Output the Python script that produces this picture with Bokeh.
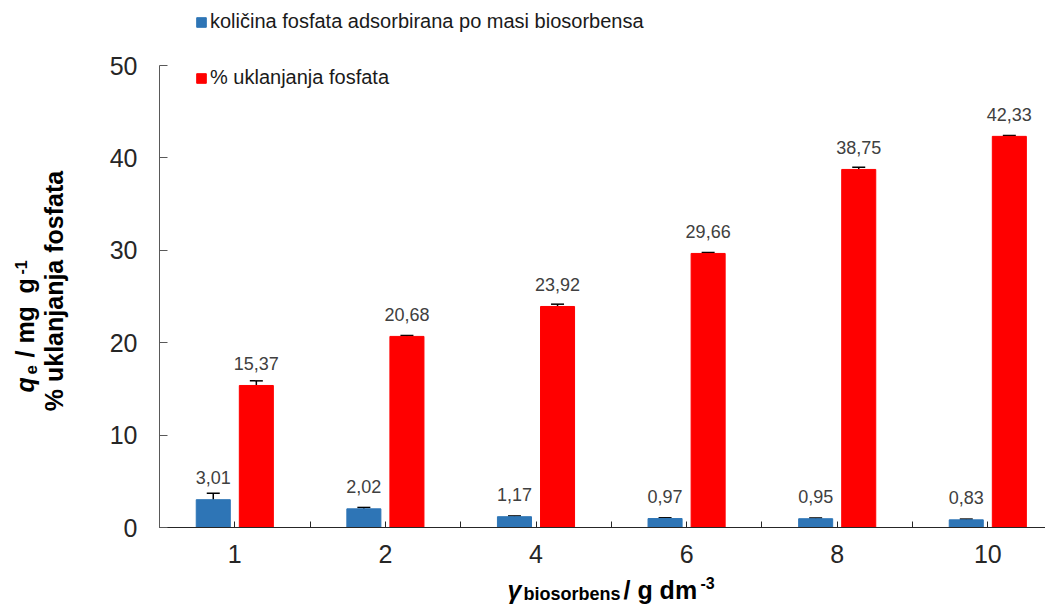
import math
from bokeh.plotting import figure
from bokeh.models import (Range1d, FixedTicker, Whisker, TeeHead, ColumnDataSource,
                          Label, Legend, LegendItem)
from bokeh.core.properties import value
from bokeh.embed import file_html
from bokeh.resources import INLINE

# ---------------- data ----------------
categories = ["1", "2", "4", "6", "8", "10"]
qe_values = [3.01, 2.02, 1.17, 0.97, 0.95, 0.83]
qe_errors = [0.70, 0.15, 0.08, 0.08, 0.08, 0.08]
removal_values = [15.37, 20.68, 23.92, 29.66, 38.75, 42.33]
removal_errors = [0.50, 0.10, 0.25, 0.10, 0.25, 0.10]
y_ticks = [0, 10, 20, 30, 40, 50]
legend_labels = ["količina fosfata adsorbirana po masi biosorbensa", "% uklanjanja fosfata"]

# ---------------- layout constants ----------------
FONT = "Liberation Sans"
W, H = 1045, 604
AX_L, AX_T, AX_B = 159, 65, 527    # axis origin / top of value axis (canvas px)
CAT_PX = 150.6                     # px per category
PXY = (AX_B - AX_T) / 50.0
X_END = (W - AX_L) / CAT_PX
OFF, BW = 0.143, 0.226
BLUE, RED = "#2E75B6", "#FF0000"

centers = [i + 0.5 for i in range(len(categories))]
boundaries = [float(i) for i in range(len(categories))]

def fmt(v):
    return f"{v:.2f}".replace(".", ",")

src_q = ColumnDataSource(dict(
    x=[c - OFF for c in centers], top=qe_values,
    upper=[v + e for v, e in zip(qe_values, qe_errors)],
    lower=[v - e for v, e in zip(qe_values, qe_errors)],
    label=[fmt(v) for v in qe_values]))
src_r = ColumnDataSource(dict(
    x=[c + OFF for c in centers], top=removal_values,
    upper=[v + e for v, e in zip(removal_values, removal_errors)],
    lower=[v - e for v, e in zip(removal_values, removal_errors)],
    label=[fmt(v) for v in removal_values]))

# frame covers the whole canvas; axes are pinned at the data origin
p = figure(width=W, height=H, output_backend="svg", toolbar_location=None,
           x_range=Range1d(-AX_L / CAT_PX, X_END),
           y_range=Range1d(-(H - AX_B) / PXY, AX_B / PXY),
           min_border_left=0, min_border_top=0, min_border_bottom=0,
           min_border_right=0)
p.outline_line_color = None
p.xgrid.visible = False
p.ygrid.visible = False
p.background_fill_color = "white"
p.border_fill_color = "white"

rq = p.vbar(x="x", top="top", width=BW, source=src_q, fill_color=BLUE, line_color=BLUE)
rr = p.vbar(x="x", top="top", width=BW, source=src_r, fill_color=RED, line_color=RED)

for s in (src_q, src_r):
    p.add_layout(Whisker(base="x", upper="upper", lower="lower", source=s,
                         line_color="black", line_width=1.5,
                         upper_head=TeeHead(size=13, line_color="black", line_width=1.5),
                         lower_head=TeeHead(size=13, line_color="black", line_width=1.5)))
    p.text(x="x", y="top", text="label", source=s, text_align="center",
           text_baseline="alphabetic", y_offset=-22, text_font=value(FONT),
           text_font_size="18px", text_color="#404040")

# axes
xa = p.xaxis[0]
xa.fixed_location = 0
xa.bounds = (0, X_END)
xa.ticker = FixedTicker(ticks=centers, minor_ticks=boundaries)
xa.major_label_overrides = {c: lab for c, lab in zip(centers, categories)}
xa.major_label_text_font = FONT
xa.major_label_text_font_size = "25px"
xa.major_label_text_color = "#262626"
xa.major_label_standoff = 17
xa.axis_line_color = "#262626"
xa.major_tick_line_color = "#262626"
xa.minor_tick_line_color = "#262626"
xa.major_tick_in = 6
xa.major_tick_out = 0
xa.minor_tick_in = 6
xa.minor_tick_out = 0

ya = p.yaxis[0]
ya.fixed_location = 0
ya.bounds = (0, 50)
ya.ticker = FixedTicker(ticks=y_ticks)
ya.major_label_text_font = FONT
ya.major_label_text_font_size = "25px"
ya.major_label_text_color = "#262626"
ya.major_label_standoff = 22
ya.axis_line_color = "#595959"
ya.major_tick_line_color = "#595959"
ya.major_tick_in = 8
ya.major_tick_out = 0
ya.minor_tick_line_color = None

# legend (location measured from the canvas bottom-left)
legend = Legend(items=[LegendItem(label=legend_labels[0], renderers=[rq]),
                       LegendItem(label=legend_labels[1], renderers=[rr])],
                location=(195, H - 89), padding=0, margin=0, border_line_color=None,
                background_fill_alpha=0, glyph_width=12, glyph_height=12,
                label_standoff=3, spacing=33, label_text_font=FONT,
                label_text_font_size="20px", label_text_color="#1a1a1a")
p.add_layout(legend)

# helper for titles placed in canvas pixels
def lab(text, cx, cy, size, style="bold", angle=0.0, align="left"):
    p.add_layout(Label(x=(cx - AX_L) / CAT_PX, y=(AX_B - cy) / PXY,
                       x_units="data", y_units="data", text=text,
                       text_font=FONT, text_font_size=f"{size}px",
                       text_font_style=style, text_color="black", angle=angle,
                       text_align=align, text_baseline="alphabetic"))

R = math.pi / 2
# y title, line 1: q_e / mg g^-1
lab("q", 24, 392, 25, "bold italic", R)
lab("e", 30, 374, 17, "bold", R)
lab("/ mg", 24, 357, 25, "bold", R)
lab("g", 24, 293, 25, "bold", R)
lab("-1", 20, 274, 16, "bold", R)
# y title, line 2
lab("% uklanjanja fosfata", 53.5, 290.5, 25, "bold", R, "center")

# x title: γ_biosorbens / g dm^-3
lab("γ", 507, 589, 25, "bold italic")
lab("biosorbens", 523, 593, 18, "bold")
lab("/ g dm", 623, 589, 25, "bold")
lab("-3", 700, 582, 16, "bold")

open("out.html", "w").write(file_html(p, INLINE))
